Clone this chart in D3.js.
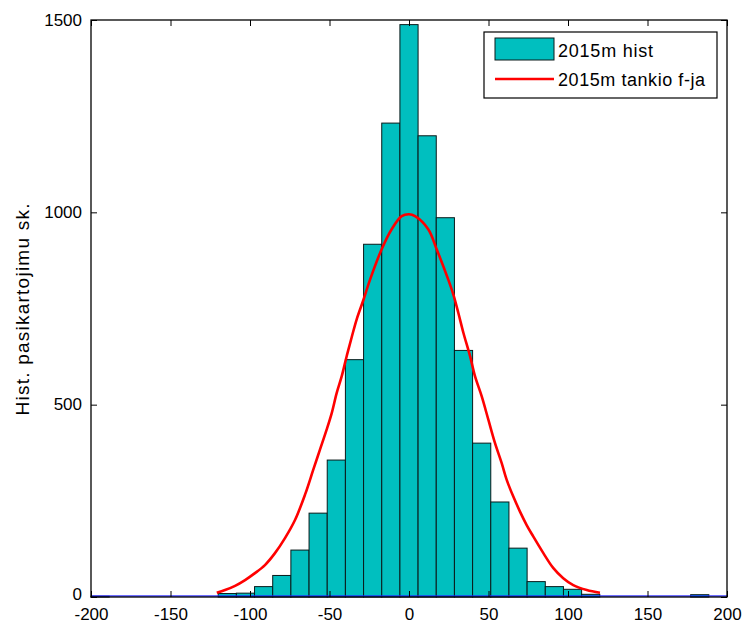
<!DOCTYPE html>
<html>
<head>
<meta charset="utf-8">
<script src="https://cdn.jsdelivr.net/npm/d3@7/dist/d3.min.js"></script>
<style>
  html, body { margin: 0; padding: 0; background: #fff; }
  svg { display: block; }
  text { font-family: "Liberation Sans", Arial, sans-serif; }
</style>
</head>
<body>
<svg id="chart" width="744" height="625"></svg>
<script>
// ---- data ----
const binCount = 35;
const xDomain = [-200, 200];
const histCounts = [2, 0, 0, 0, 0, 0, 0, 9, 10, 27, 56, 122, 218, 356, 617, 917, 1232, 1488,
                    1199, 986, 641, 400, 247, 127, 40, 27, 20, 7, 0, 0, 0, 0, 0, 6, 0];
const curveX = [-120.9, -115.7, -109.4, -103.1, -96.9, -90.6, -84.3, -78.0, -71.7, -65.4, -60.2,
                -56.0, -51.8, -48.6, -45.5, -42.3, -39.2, -36.0, -32.9, -28.7, -24.5,
                -17.2, -10.9, -4.6, 0, 3.8, 12.1, 17.4,
                24.7, 27.9, 31.0, 34.2, 38.4, 41.5, 45.7, 49.9, 54.1, 58.3, 61.4,
                65.6, 69.8, 74.0, 78.2, 84.5, 90.8, 97.0, 103.3, 111.8, 120.1];
const curveY = [11, 18, 29, 44, 62, 83, 114, 153, 200, 266, 331,
                383, 435, 478, 530, 574, 626, 676, 722, 772, 825,
                904, 956, 990, 995, 990, 956, 904,
                825, 786, 739, 687, 626, 574, 522, 461, 400, 348, 305,
                261, 222, 187, 157, 114, 75, 49, 31, 18, 11];
const blueX = [-200, 200];
const blueY = [0, 0];
const xTicks = [-200, -150, -100, -50, 0, 50, 100, 150, 200];
const yTicks = [0, 500, 1000, 1500];
const legendLabels = ["2015m hist", "2015m tankio f-ja"];
const yLabel = "Hist. pasikartojimu sk.";

// ---- layout ----
const L = 91, R = 727, T = 20, B = 597;
const svg = d3.select("#chart");
const x = d3.scaleLinear().domain(xDomain).range([L, R]);
const y = d3.scaleLinear().domain([0, 1500]).range([B, T]);
const binW = (xDomain[1] - xDomain[0]) / binCount;
const bins = histCounts.map((c, i) => ({x0: xDomain[0] + i * binW, x1: xDomain[0] + (i + 1) * binW, c}));
const fmt = d => String(d);

// bars
svg.append("g").selectAll("rect").data(bins.filter(d => d.c > 0)).join("rect")
  .attr("x", d => x(d.x0))
  .attr("y", d => y(d.c))
  .attr("width", d => x(d.x1) - x(d.x0))
  .attr("height", d => y(0) - y(d.c))
  .attr("fill", "#00bfbf")
  .attr("stroke", "#0a1a1a")
  .attr("stroke-width", 1);

// blue series at zero
svg.append("path")
  .datum(blueX.map((v, i) => [v, blueY[i]]))
  .attr("d", d3.line().x(d => x(d[0])).y(d => y(d[1]) - 1))
  .attr("fill", "none")
  .attr("stroke", "#2020ff")
  .attr("stroke-opacity", 0.65)
  .attr("stroke-width", 2);

// red curve
svg.append("path")
  .datum(curveX.map((v, i) => [v, curveY[i]]))
  .attr("d", d3.line().curve(d3.curveCatmullRom.alpha(0.5)).x(d => x(d[0])).y(d => y(d[1])))
  .attr("fill", "none")
  .attr("stroke", "#ff0000")
  .attr("stroke-width", 2.6)
  .attr("stroke-linejoin", "round");

// axes box
const frame = svg.append("g");
frame.append("rect").attr("x", L).attr("y", T).attr("width", R - L).attr("height", B - T)
  .attr("fill", "none").attr("stroke", "#000").attr("stroke-width", 1.3);

// inward ticks via d3 axes
const tickLen = 6;
const axB = svg.append("g").attr("transform", `translate(0,${B})`)
  .call(d3.axisBottom(x).tickValues(xTicks).tickSize(-tickLen).tickPadding(tickLen + 5).tickFormat(fmt));
const axT = svg.append("g").attr("transform", `translate(0,${T})`)
  .call(d3.axisTop(x).tickValues(xTicks).tickSize(-tickLen).tickFormat(""));
const axL = svg.append("g").attr("transform", `translate(${L},0)`)
  .call(d3.axisLeft(y).tickValues(yTicks).tickSize(-tickLen).tickPadding(tickLen + 3).tickFormat(fmt));
const axR = svg.append("g").attr("transform", `translate(${R},0)`)
  .call(d3.axisRight(y).tickValues(yTicks).tickSize(-tickLen).tickFormat(""));
[axB, axT, axL, axR].forEach(a => {
  a.select(".domain").remove();
  a.selectAll("line").attr("stroke", "#000").attr("stroke-width", 1);
  a.selectAll("text").attr("fill", "#000").style("font-size", "17px")
    .style("font-family", '"Liberation Sans", Arial, sans-serif');
});
axL.selectAll("text").attr("dy", d => d === 0 ? "0.15em" : "0.3em");

// y label
svg.append("text")
  .attr("transform", `translate(29,${(T + B) / 2 + 1}) rotate(-90)`)
  .attr("text-anchor", "middle")
  .attr("textLength", 212)
  .attr("lengthAdjust", "spacing")
  .style("font-size", "19px")
  .text(yLabel);

// legend
const lg = svg.append("g");
lg.append("rect").attr("x", 484).attr("y", 32).attr("width", 233).attr("height", 66)
  .attr("fill", "#fff").attr("stroke", "#000").attr("stroke-width", 1.2);
lg.append("rect").attr("x", 495).attr("y", 38).attr("width", 59).attr("height", 22)
  .attr("fill", "#00bfbf").attr("stroke", "#0a1a1a").attr("stroke-width", 1);
lg.append("line").attr("x1", 495).attr("x2", 554).attr("y1", 79).attr("y2", 79)
  .attr("stroke", "#ff0000").attr("stroke-width", 2.6);
lg.append("text").attr("x", 558).attr("y", 57).style("font-size", "18px")
  .attr("textLength", 95).attr("lengthAdjust", "spacing").text(legendLabels[0]);
lg.append("text").attr("x", 558).attr("y", 86).style("font-size", "18px")
  .attr("textLength", 147).attr("lengthAdjust", "spacing").text(legendLabels[1]);
</script>
</body>
</html>
